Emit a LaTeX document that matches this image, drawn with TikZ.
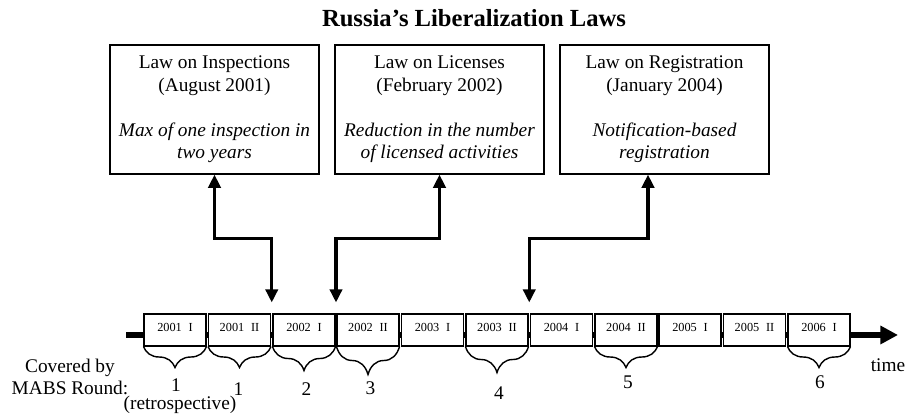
\documentclass[tikz,border=0pt]{standalone}
\usepackage{fontspec}
\setmainfont{Liberation Serif}
\usepackage{tikz}
\usetikzlibrary{arrows.meta,calc,decorations.pathreplacing}
\newcommand{\yrhalf}[2]{#1\hspace{0.55em}#2}

\begin{document}
\begin{tikzpicture}[
  font=\fontsize{11}{12.8}\selectfont,
  law/.style={draw,line width=0.7pt,align=center,
    minimum width=4.18cm,minimum height=2.58cm,inner sep=0pt},
  period/.style={draw,fill=white,line width=0.6pt,inner sep=0pt,
    minimum width=1.24cm,minimum height=0.64cm,font=\fontsize{7}{8}\selectfont,
    text height=5pt,text depth=3.5pt},
  link/.style={{Triangle[length=7.5pt,width=7pt]}-{Triangle[length=7.5pt,width=7pt]},
    line width=1.8pt},
  axis/.style={-{Triangle[length=10pt,width=10pt]},line width=3.2pt},
  cover/.style={decorate,decoration={brace,mirror,amplitude=#1},line width=0.8pt},
  cover/.default=0.42cm
]
  \useasboundingbox (0,0) rectangle (18.12,8.38);

  \node[font=\fontsize{14}{16}\selectfont\bfseries,anchor=base] (title) at (9.48,7.84)
    {Russia's Liberalization Laws};

  \node[law] (insp) at (4.29,6.19)
    {Law on Inspections\\(August 2001)\\[12.8pt]\textit{Max of one inspection in}\\\textit{two years}};
  \node[law] (lic) at (8.79,6.19)
    {Law on Licenses\\(February 2002)\\[12.8pt]\textit{Reduction in the number}\\\textit{of licensed activities}};
  \node[law] (reg) at (13.29,6.19)
    {Law on Registration\\(January 2004)\\[12.8pt]\textit{Notification-based}\\\textit{registration}};

  \coordinate (t0) at (2.52,1.68);
  \coordinate (t1) at (17.96,1.68);
  \draw[axis] (t0) -- (t1);

  \node[period] (y01a) at (3.50,1.78) {\yrhalf{2001}{I}};
  \node[period] (y01b) at (4.79,1.78) {\yrhalf{2001}{II}};
  \node[period] (y02a) at (6.08,1.78) {\yrhalf{2002}{I}};
  \node[period] (y02b) at (7.36,1.78) {\yrhalf{2002}{II}};
  \node[period] (y03a) at (8.65,1.78) {\yrhalf{2003}{I}};
  \node[period] (y03b) at (9.94,1.78) {\yrhalf{2003}{II}};
  \node[period] (y04a) at (11.23,1.78) {\yrhalf{2004}{I}};
  \node[period] (y04b) at (12.52,1.78) {\yrhalf{2004}{II}};
  \node[period] (y05a) at (13.80,1.78) {\yrhalf{2005}{I}};
  \node[period] (y05b) at (15.09,1.78) {\yrhalf{2005}{II}};
  \node[period] (y06a) at (16.38,1.78) {\yrhalf{2006}{I}};

  \coordinate (g1) at ($(y01b.north east)!0.5!(y02a.north west)+(0,0.22)$);
  \coordinate (g2) at ($(y02a.north east)!0.5!(y02b.north west)+(0,0.22)$);
  \coordinate (g3) at ($(y03b.north east)!0.5!(y04a.north west)+(0,0.22)$);
  \draw[link] (insp.south) -- ++(0,-1.28) -| (g1);
  \draw[link] (lic.south) -- ++(0,-1.28) -| (g2);
  \draw[link] ([xshift=-0.33cm]reg.south) -- ++(0,-1.28) -| (g3);

  \draw[cover] (y01a.south west) -- (y01a.south east);
  \draw[cover] (y01b.south west) -- (y01b.south east);
  \draw[cover=0.48cm] (y02a.south west) -- (y02a.south east);
  \draw[cover=0.56cm] (y02b.south west) -- (y02b.south east);
  \draw[cover=0.52cm] (y03b.south west) -- (y03b.south east);
  \draw[cover] (y04b.south west) -- (y04b.south east);
  \draw[cover] (y06a.south west) -- (y06a.south east);

  \node[align=center] (covered) at (1.40,0.84) {Covered by\\MABS Round:};
  \node (round1) at (3.52,0.68) {1};
  \node[anchor=base] (retro) at (3.60,0.19) {(retrospective)};
  \node (round1b) at (4.77,0.59) {1};
  \node (round2) at (6.13,0.59) {2};
  \node (round3) at (7.41,0.61) {3};
  \node (round4) at (9.98,0.52) {4};
  \node (round5) at (12.56,0.74) {5};
  \node (round6) at (16.40,0.74) {6};
  \node[anchor=base] (time) at (17.76,0.94) {time};
\end{tikzpicture}
\end{document}
